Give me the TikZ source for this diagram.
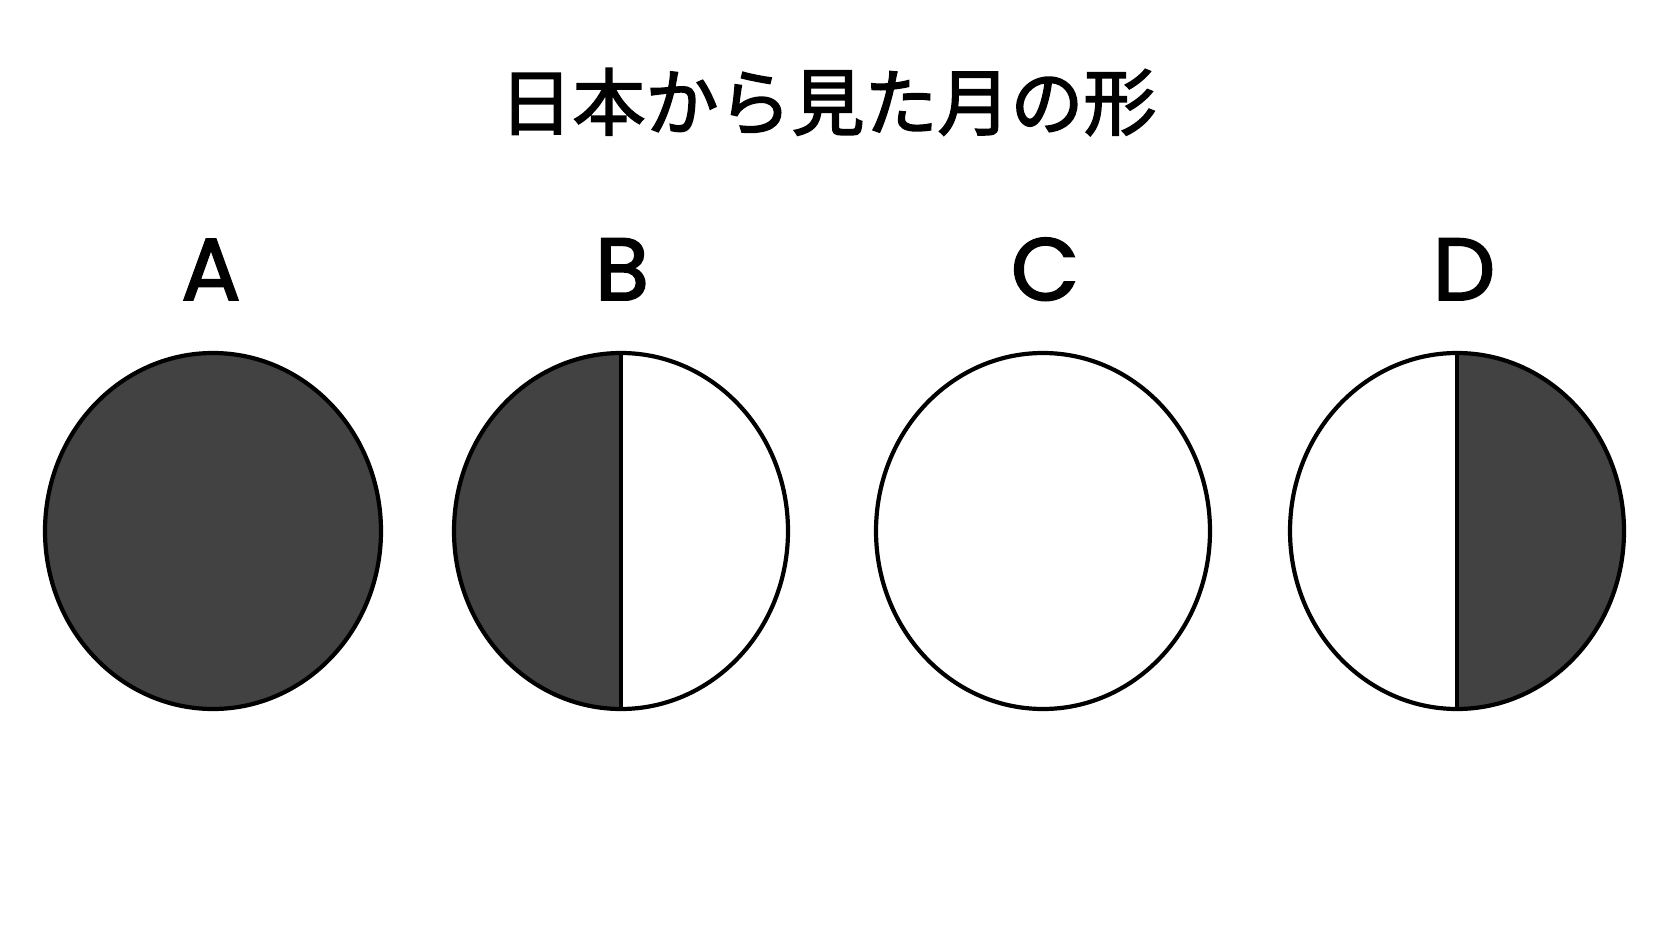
\documentclass[tikz,border=0pt]{standalone}
\usepackage{fontspec}
\newfontfamily\cjk{Noto Sans CJK JP}[FakeBold=2.2]
\newfontfamily\lab{Poppins}[FakeBold=2.2]
\definecolor{moondark}{HTML}{424242}
\begin{document}
\begin{tikzpicture}[x=1pt,y=-1pt,
  moonrim/.style={line width=4.2pt,draw=black},
  letterlab/.style={font=\lab\fontsize{88}{88}\selectfont,inner sep=0pt,anchor=base}]
\useasboundingbox[fill=white] (0,0) rectangle (1672,941);
\node[font=\cjk\fontsize{73}{73}\selectfont,inner sep=0pt] (title) at (828,102) {日本から見た月の形};
% labels
\node[letterlab] (la) at (211,300) {A};
\node[letterlab] (lb) at (622,300) {B};
\node[letterlab] (lc) at (1045,300) {C};
\node[letterlab] (ld) at (1464,300) {D};
% A: full dark
\coordinate (ca) at (213,531);
\fill[moondark] (ca) ellipse [x radius=168, y radius=178];
\draw[moonrim] (ca) ellipse [x radius=168, y radius=178];
% B: left dark
\coordinate (cb) at (621,531);
\fill[white] (cb) ellipse [x radius=167, y radius=178];
\fill[moondark] (cb) ++(0,-178) arc[start angle=270,end angle=90,x radius=167,y radius=178] -- cycle;
\draw[moonrim] (cb) ellipse [x radius=167, y radius=178];
\draw[moonrim] (cb) ++(0,-178) -- ++(0,356);
% C: full light
\coordinate (cc) at (1043,531);
\fill[white] (cc) ellipse [x radius=167, y radius=178];
\draw[moonrim] (cc) ellipse [x radius=167, y radius=178];
% D: right dark
\coordinate (cd) at (1457,531);
\fill[white] (cd) ellipse [x radius=167, y radius=178];
\fill[moondark] (cd) ++(0,-178) arc[start angle=270,end angle=450,x radius=167,y radius=178] -- cycle;
\draw[moonrim] (cd) ellipse [x radius=167, y radius=178];
\draw[moonrim] (cd) ++(0,-178) -- ++(0,356);
\end{tikzpicture}
\end{document}
